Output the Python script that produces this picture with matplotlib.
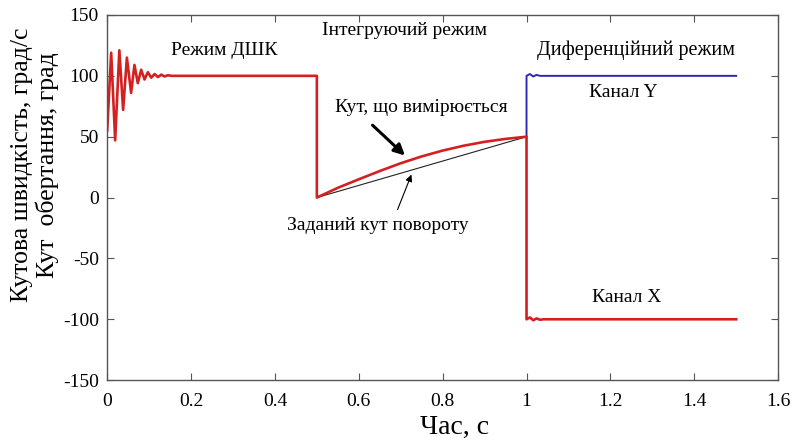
import matplotlib.pyplot as plt

plt.rcParams['font.family'] = ['Liberation Serif', 'DejaVu Serif']
plt.rcParams['axes.unicode_minus'] = False

# --- дані ---
# канал X / режим ДШК (червона лінія)
t_red = [0.0, 0.0095, 0.019, 0.029, 0.038, 0.047, 0.057, 0.065, 0.073, 0.081,
         0.089, 0.097, 0.105, 0.113, 0.121, 0.129, 0.137, 0.145, 0.153,
         0.5, 0.5,
         0.55, 0.6, 0.65, 0.7, 0.75, 0.8, 0.85, 0.9, 0.95, 1.0,
         1.0, 1.008, 1.016, 1.024, 1.032, 1.04, 1.5]
v_red = [55, 119, 47, 121, 72, 115, 86, 109, 94, 105,
         97, 103, 98.5, 101.5, 99, 101, 99.5, 100.5, 100,
         100, 0,
         8, 15, 21.8, 28.2, 33.8, 38.6, 42.6, 45.8, 48.2, 50,
         -100, -98.5, -100.8, -99.3, -100.4, -100, -100]

# канал Y (синя лінія)
t_blue = [1.0, 1.0, 1.008, 1.016, 1.024, 1.032, 1.5]
v_blue = [50, 100, 101.5, 99.5, 100.8, 100, 100]

# заданий кут повороту
t_ref = [0.5, 1.0]
v_ref = [0, 50]

xticks = [0, 0.2, 0.4, 0.6, 0.8, 1.0, 1.2, 1.4, 1.6]
xtick_labels = ['0', '0.2', '0.4', '0.6', '0.8', '1', '1.2', '1.4', '1.6']
yticks = [-150, -100, -50, 0, 50, 100, 150]

fig = plt.figure(figsize=(7.94, 4.41), dpi=100)
ax = fig.add_axes([0.135, 0.138, 0.845, 0.828])

ax.plot(t_blue, v_blue, color='#2b2bb0', linewidth=1.4)
ax.plot(t_ref, v_ref, color='#222222', linewidth=0.8)
ax.plot(t_red, v_red, color='#d42020', linewidth=1.9)

ax.set_xlim(0, 1.6)
ax.set_ylim(-150, 150)
ax.set_xticks(xticks)
ax.set_xticklabels(xtick_labels)
ax.set_yticks(yticks)
ax.tick_params(direction='in', top=True, right=True, labelsize=14, length=5,
               color='#555555')
ax.tick_params(axis='x', pad=9)
ax.tick_params(axis='y', pad=6)
for s in ax.spines.values():
    s.set_color('#555555')
    s.set_linewidth(1.0)

fig.text(0.573, 0.03, 'Час, с', ha='center', va='center', fontsize=20)
fig.text(0.028, 0.626, 'Кутова швидкість, град/с', rotation=90,
         ha='center', va='center', fontsize=18.5)
fig.text(0.06, 0.626, 'Кут  обертання, град', rotation=90,
         ha='center', va='center', fontsize=18.5)

ax.text(0.28, 121, 'Режим ДШК', ha='center', va='center', fontsize=14)
ax.text(0.71, 137, 'Інтегруючий режим', ha='center', va='center', fontsize=14)
ax.text(1.26, 121, 'Диференційний режим', ha='center', va='center', fontsize=14.5)
ax.text(1.23, 86, 'Канал Y', ha='center', va='center', fontsize=14)
ax.text(1.24, -82, 'Канал X', ha='center', va='center', fontsize=14)
ax.text(0.75, 74, 'Кут, що вимірюється', ha='center', va='center', fontsize=14)
ax.text(0.645, -23, 'Заданий кут повороту', ha='center', va='center', fontsize=14)

ax.annotate('', xy=(0.715, 33), xytext=(0.628, 61),
            arrowprops=dict(arrowstyle='-|>', color='black', linewidth=2.2,
                            mutation_scale=16))
ax.annotate('', xy=(0.728, 21), xytext=(0.69, -12),
            arrowprops=dict(arrowstyle='-|>', color='black', linewidth=0.8,
                            mutation_scale=10))

fig.savefig('out.png', dpi=100)
